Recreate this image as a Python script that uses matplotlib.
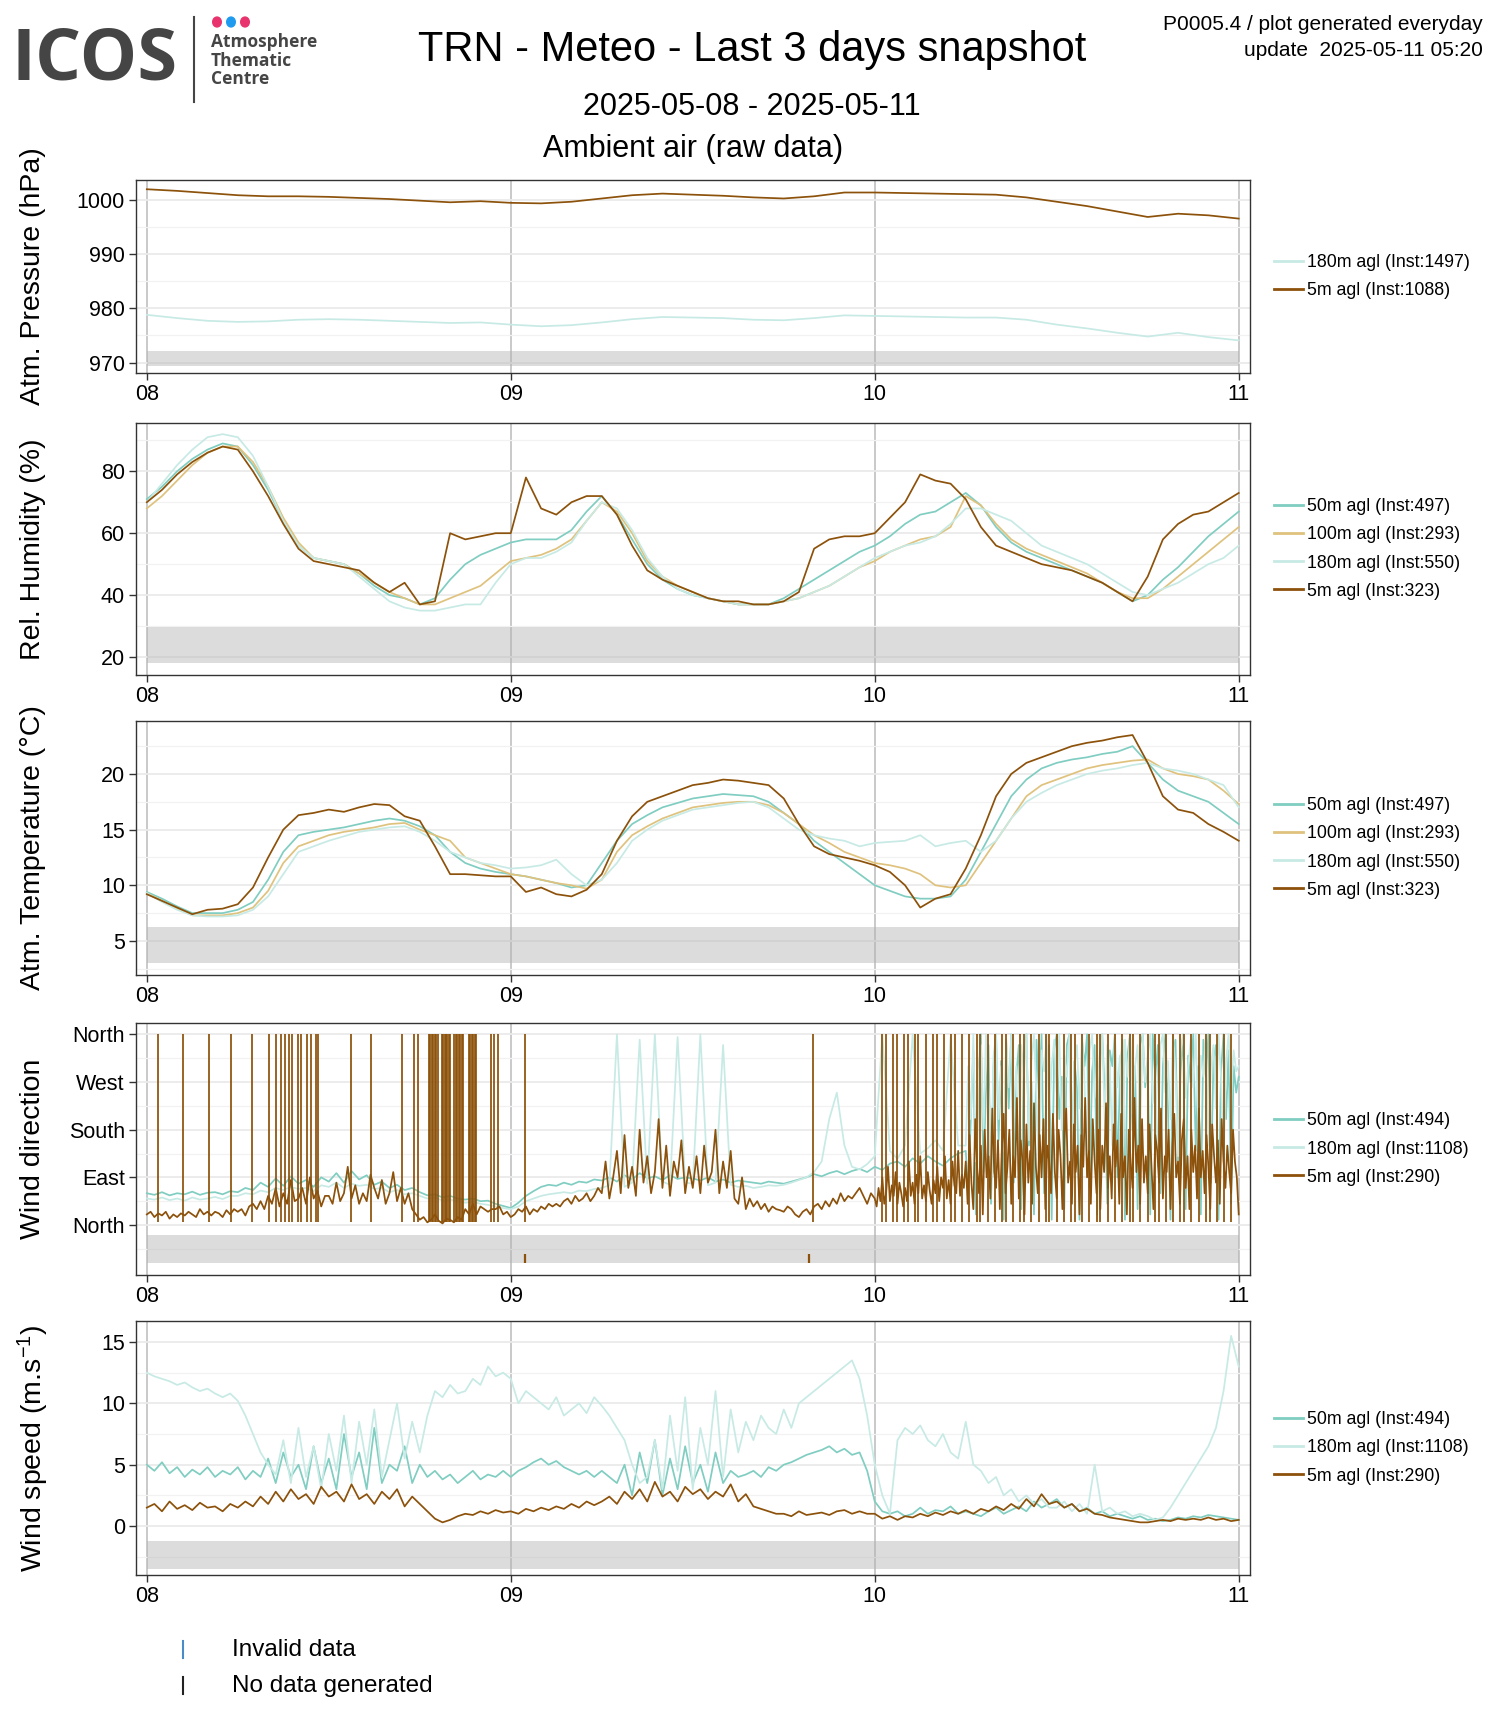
import numpy as np
import matplotlib
matplotlib.use("Agg")
import matplotlib.pyplot as plt
from matplotlib.lines import Line2D
from matplotlib.patches import Circle

plt.rcParams['font.family'] = ['Liberation Sans', 'DejaVu Sans']
plt.rcParams['mathtext.fontset'] = 'custom'
plt.rcParams['mathtext.rm'] = 'Liberation Sans'
plt.rcParams['mathtext.it'] = 'Liberation Sans:italic'

# ---------------- data ----------------
day_ticks = [0, 1, 2, 3]
day_labels = ["08", "09", "10", "11"]

press_5m = [1001.9, 1001.6, 1001.2, 1000.8, 1000.6, 1000.6, 1000.5, 1000.3, 1000.1, 999.8,
            999.5, 999.7, 999.4, 999.3, 999.6, 1000.2, 1000.8, 1001.1, 1000.9, 1000.7,
            1000.4, 1000.2, 1000.6, 1001.3, 1001.3, 1001.2, 1001.1, 1001.0, 1000.9, 1000.4,
            999.6, 998.8, 997.8, 996.8, 997.4, 997.1, 996.5]
press_180m = [978.8, 978.2, 977.7, 977.5, 977.6, 977.9, 978.0, 977.9, 977.7, 977.5,
              977.3, 977.4, 977.0, 976.7, 976.9, 977.4, 978.0, 978.4, 978.3, 978.2,
              977.9, 977.8, 978.2, 978.7, 978.6, 978.5, 978.4, 978.3, 978.3, 977.9,
              977.0, 976.3, 975.5, 974.8, 975.5, 974.7, 974.1]

rh_5m = [70, 74, 79, 83, 86, 88, 87, 80, 72, 63,
         55, 51, 50, 49, 48, 44, 41, 44, 37, 38,
         60, 58, 59, 60, 60, 78, 68, 66, 70, 72,
         72, 66, 56, 48, 45, 43, 41, 39, 38, 38,
         37, 37, 38, 41, 55, 58, 59, 59, 60, 65,
         70, 79, 77, 76, 71, 62, 56, 54, 52, 50,
         49, 48, 46, 44, 41, 38, 46, 58, 63, 66,
         67, 70, 73]
rh_50m = [71, 75, 80, 84, 87, 89, 88, 82, 74, 64,
          56, 52, 51, 50, 47, 43, 40, 39, 37, 39,
          45, 50, 53, 55, 57, 58, 58, 58, 61, 67,
          72, 66, 58, 50, 45, 42, 40, 39, 38, 37,
          37, 37, 39, 42, 45, 48, 51, 54, 56, 59,
          63, 66, 67, 70, 73, 69, 62, 57, 54, 52,
          50, 48, 46, 44, 41, 38, 40, 45, 49, 54,
          59, 63, 67]
rh_100m = [68, 72, 77, 82, 86, 88, 88, 83, 75, 65,
           57, 52, 51, 50, 47, 44, 41, 39, 37, 37,
           39, 41, 43, 47, 51, 52, 53, 55, 58, 64,
           70, 67, 60, 51, 46, 43, 41, 39, 38, 37,
           37, 37, 38, 39, 41, 43, 46, 49, 51, 54,
           56, 58, 59, 62, 72, 69, 63, 58, 55, 53,
           51, 49, 47, 44, 41, 39, 39, 42, 46, 50,
           54, 58, 62]
rh_180m = [70, 76, 82, 87, 91, 92, 91, 85, 75, 64,
           56, 52, 51, 50, 46, 42, 38, 36, 35, 35,
           36, 37, 37, 44, 50, 52, 52, 54, 57, 64,
           70, 68, 61, 52, 46, 42, 40, 39, 38, 37,
           37, 37, 38, 39, 41, 43, 46, 49, 52, 54,
           56, 57, 59, 63, 68, 68, 66, 64, 60, 56,
           54, 52, 50, 47, 44, 41, 40, 42, 44, 47,
           50, 52, 56]

temp_5m = [9.2, 8.6, 8.0, 7.4, 7.8, 7.9, 8.3, 9.8, 12.5, 15.0,
           16.3, 16.5, 16.8, 16.6, 17.0, 17.3, 17.2, 16.2, 15.8, 13.5,
           11.0, 11.0, 10.9, 10.8, 10.8, 9.4, 9.8, 9.2, 9.0, 9.6,
           11.0, 14.0, 16.2, 17.5, 18.0, 18.5, 19.0, 19.2, 19.5, 19.4,
           19.2, 19.0, 17.8, 15.5, 13.5, 12.8, 12.5, 12.2, 11.8, 11.2,
           10.0, 8.0, 8.8, 9.2, 11.5, 14.5, 18.0, 20.0, 21.0, 21.5,
           22.0, 22.5, 22.8, 23.0, 23.3, 23.5, 21.0, 18.0, 16.8, 16.5,
           15.5, 14.8, 14.0]
temp_50m = [9.4, 8.8, 8.1, 7.5, 7.5, 7.5, 7.8, 8.5, 10.5, 13.0,
            14.5, 14.8, 15.0, 15.2, 15.5, 15.8, 16.0, 15.8, 15.3, 14.5,
            13.0, 12.0, 11.5, 11.2, 11.0, 10.8, 10.5, 10.2, 9.8, 10.0,
            12.0, 14.0, 15.5, 16.3, 17.0, 17.4, 17.8, 18.0, 18.2, 18.1,
            18.0, 17.5, 16.5, 15.5, 14.0, 13.0, 12.0, 11.0, 10.0, 9.5,
            9.0, 8.8, 8.8, 9.0, 10.5, 13.0, 15.5, 18.0, 19.5, 20.5,
            21.0, 21.3, 21.5, 21.8, 22.0, 22.5, 21.0, 19.5, 18.5, 18.0,
            17.5, 16.5, 15.5]
temp_100m = [9.3, 8.6, 7.9, 7.3, 7.3, 7.3, 7.5, 8.0, 9.5, 12.0,
             13.5, 14.0, 14.5, 14.8, 15.0, 15.2, 15.5, 15.6, 15.0, 14.5,
             14.0, 12.5, 12.0, 11.5, 11.0, 10.8, 10.5, 10.2, 10.0, 9.7,
             10.5, 13.0, 14.5, 15.3, 16.0, 16.5, 17.0, 17.2, 17.4, 17.5,
             17.5, 17.2, 16.5, 15.5, 14.5, 13.8, 13.0, 12.5, 12.0, 11.8,
             11.5, 11.0, 10.0, 9.8, 10.0, 12.0, 14.0, 16.0, 18.0, 19.0,
             19.5, 20.0, 20.5, 20.8, 21.0, 21.2, 21.3, 20.5, 20.0, 19.8,
             19.5, 18.5, 17.3]
temp_180m = [9.3, 8.5, 7.8, 7.3, 7.2, 7.2, 7.3, 7.8, 9.0, 11.0,
             13.0, 13.5, 14.0, 14.4, 14.8, 15.0, 15.2, 15.3, 14.8, 14.0,
             13.0, 12.5, 12.0, 11.8, 11.5, 11.6, 11.8, 12.3, 11.0, 10.0,
             10.5, 12.0, 14.0, 15.0, 15.8, 16.3, 16.8, 17.0, 17.2, 17.4,
             17.5, 17.0, 16.0, 15.0, 14.5, 14.2, 14.0, 13.5, 13.8, 13.9,
             14.0, 14.5, 13.5, 13.8, 14.0, 13.0, 14.0, 16.0, 17.5, 18.3,
             19.0, 19.5, 20.0, 20.3, 20.5, 20.8, 21.0, 20.5, 20.3, 20.0,
             19.5, 19.0, 17.0]

# wind direction, 5m (values without the jumps to North)
# part a: every 15 min from 0 h to 48 h
wdir_5m_a = [20, 25, 15, 22, 18, 25, 12, 20, 15, 22, 18, 25,
             20, 15, 30, 20, 25, 18, 25, 22, 15, 28, 20, 30,
             25, 30, 18, 35, 40, 30, 45, 30, 55, 40, 70, 35,
             60, 40, 85, 45, 50, 70, 40, 90, 50, 65, 35, 55,
             55, 40, 80, 45, 60, 110, 50, 75, 40, 60, 45, 95,
             70, 50, 85, 40, 60, 100, 45, 70, 40, 60, 30, 20,
             10, 15, 5, 10, 20, 8, 3, 12, 10, 5, 15, 10,
             30, 20, 40, 20, 35, 30, 25, 30, 30, 35, 20, 25,
             15, 20, 30, 25, 35, 20, 30, 25, 35, 30, 40, 35,
             40, 35, 45, 50, 40, 55, 45, 50, 60, 45, 55, 70,
             60, 120, 50, 90, 140, 60, 170, 70, 110, 55, 180, 80,
             130, 60, 100, 200, 70, 150, 55, 120, 90, 160, 60, 110,
             70, 130, 60, 150, 80, 100, 180, 60, 120, 70, 140, 50,
             40, 90, 30, 50, 35, 45, 30, 40, 25, 35, 30, 28,
             25, 35, 30, 20, 15, 25, 30, 20, 35, 40, 30, 45,
             35, 50, 40, 60, 45, 55, 50, 60, 70, 55, 40, 60]
# part b: every 7.5 min from 48 h to 72 h
wdir_5m_b = [50, 35, 70, 45, 90, 40, 60, 110, 45, 75, 55, 100, 40, 80, 60, 35,
             70, 45, 120, 55, 80, 40, 95, 60, 130, 50, 75, 45, 100, 65, 40, 85,
             60, 110, 45, 90, 70, 130, 50, 85, 40, 120, 75, 60, 140, 55, 95, 70,
             120, 40, 170, 80, 30, 200, 110, 60, 150, 20, 180, 90, 130, 50, 220, 100,
             70, 160, 30, 140, 210, 60, 110, 180, 40, 130, 90, 240, 50, 160, 120, 20,
             190, 80, 140, 40, 230, 110, 60, 170, 90, 200, 30, 150, 120, 60, 210, 100,
             50, 180, 130, 30, 160, 220, 80, 120, 40, 190, 100, 150, 20, 170, 110, 240,
             90, 140, 40, 200, 120, 60, 180, 30, 150, 100, 230, 70, 130, 50, 190, 110,
             160, 40, 210, 90, 130, 20, 180, 120, 70, 240, 100, 150, 40, 200, 80, 130,
             60, 190, 110, 30, 170, 140, 80, 220, 50, 130, 100, 180, 30, 150, 210, 90,
             120, 40, 160, 200, 70, 130, 30, 180, 100, 150, 50, 220, 90, 140, 60, 170,
             110, 30, 190, 130, 80, 160, 40, 200, 120, 70, 150, 100, 60, 180, 120, 90,
             20]
# days at which the 5m direction jumps to North (360) and back
wdir_5m_north_days = [0.03, 0.10, 0.17, 0.23, 0.29, 0.335, 0.355, 0.37, 0.38, 0.39,
                      0.40, 0.415, 0.425, 0.44, 0.45, 0.465, 0.47, 0.56, 0.615, 0.70,
                      0.735, 0.745,
                      0.775, 0.779, 0.783, 0.787, 0.791, 0.795, 0.799,
                      0.810, 0.814, 0.818, 0.822, 0.826, 0.830, 0.834,
                      0.845, 0.849, 0.853, 0.857, 0.861, 0.865, 0.869,
                      0.885, 0.889, 0.893, 0.897, 0.901, 0.905,
                      0.945, 0.955, 0.965, 1.04, 1.83,
                      2.02, 2.03, 2.05, 2.06, 2.08, 2.09, 2.11, 2.12, 2.14, 2.16,
                      2.17, 2.19, 2.21, 2.22, 2.24, 2.26, 2.28, 2.29, 2.31, 2.33,
                      2.35, 2.36, 2.38, 2.40, 2.41, 2.43, 2.45, 2.47, 2.48, 2.50,
                      2.52, 2.54, 2.55, 2.57, 2.59, 2.61, 2.62, 2.64, 2.66, 2.68,
                      2.70, 2.71, 2.73, 2.75, 2.77, 2.78, 2.80, 2.82, 2.84, 2.85,
                      2.87, 2.89, 2.91, 2.92, 2.94, 2.96, 2.98]
wdir_north_low, wdir_north_high = 5, 360

# wind direction 50m / 180m: every 30 min until 54 h, then every 10 min
wdir_50m_a = [60, 57, 62, 56, 60, 58, 63, 57, 61, 62, 58, 64,
              62, 70, 66, 80, 72, 88, 74, 92, 78, 85, 72, 90,
              82, 98, 80, 102, 86, 94, 76, 82, 70, 76, 66, 70,
              62, 56, 58, 52, 55, 50, 48, 50, 45, 46, 40, 36,
              32, 42, 55, 64, 72, 76, 74, 80, 76, 82, 80, 86,
              84, 90, 82, 94, 86, 98, 88, 92, 85, 94, 87, 90,
              88, 84, 90, 82, 86, 80, 84, 82, 80, 78, 82, 80,
              78, 82, 86, 90, 96, 92, 98, 102, 96, 102, 106, 100,
              110, 104, 116, 120, 110, 126, 116, 130, 120, 112, 126, 135]
wdir_50m_b = [140, 60, 200, 330, 20, 280, 360, 100, 250, 340, 40, 300, 360, 160, 310, 10, 350, 220,
              360, 80, 280, 340, 30, 310, 360, 150, 270, 20, 350, 240, 360, 60, 300, 340, 10, 330,
              360, 200, 280, 30, 340, 360, 120, 310, 260, 10, 350, 300, 360, 70, 290, 340, 20, 320,
              360, 250, 40, 330, 300, 360, 90, 280, 350, 10, 320, 360, 180, 300, 30, 340, 360, 260,
              310, 20, 360, 280, 340, 60, 300, 360, 220, 10, 330, 350, 120, 290, 360, 30, 320, 270,
              360, 140, 300, 20, 350, 280, 360, 80, 310, 340, 10, 290, 360, 200, 330, 40, 300, 250,
              280]
wdir_180m_a = [50, 48, 52, 47, 50, 46, 52, 48, 50, 53, 49, 55,
               55, 60, 58, 65, 62, 70, 66, 72, 68, 70, 64, 75,
               72, 80, 70, 78, 74, 76, 68, 70, 62, 66, 58, 60,
               55, 50, 52, 46, 48, 45, 42, 44, 40, 38, 35, 32,
               30, 35, 45, 50, 55, 58, 60, 62, 60, 65, 64, 68,
               70, 75, 360, 72, 80, 350, 78, 360, 82, 76, 355, 80,
               78, 360, 75, 80, 340, 76, 72, 74, 70, 72, 75, 74,
               76, 80, 85, 90, 100, 120, 200, 250, 150, 110, 105, 115,
               130, 360, 140, 125, 150, 360, 135, 145, 160, 140, 355, 150]
wdir_180m_b = [150, 300, 200, 360, 120, 280, 340, 180, 360, 250, 90, 320, 360, 200, 300, 140, 350, 260,
               360, 220, 300, 100, 340, 280, 360, 160, 310, 360, 240, 80, 330, 290, 360, 200, 300, 350,
               250, 360, 180, 320, 280, 360, 120, 300, 340, 220, 360, 270, 100, 330, 360, 240, 310, 280,
               360, 200, 340, 300, 150, 360, 260, 320, 90, 350, 280, 360, 210, 300, 340, 180, 360, 270,
               320, 360, 230, 300, 110, 340, 360, 250, 310, 200, 360, 290, 130, 330, 360, 240, 300, 350,
               260, 360, 190, 320, 280, 360, 150, 300, 340, 220, 360, 280, 120, 310, 360, 250, 330, 290,
               300]
wdir_5m_nodata_days = [1.04, 1.82]

# wind speed: every 30 min
ws_180m = [12.5, 12.2, 12.0, 11.8, 11.5, 11.7, 11.3, 11.0, 11.2, 10.8, 10.5, 10.8,
           10.2, 9.0, 7.5, 6.0, 5.0, 4.2, 7.0, 3.5, 8.0, 4.0, 6.5, 3.0,
           7.5, 4.5, 9.0, 3.5, 8.5, 5.0, 9.5, 4.0, 7.0, 10.0, 5.5, 8.5,
           6.0, 9.0, 11.0, 10.5, 11.5, 10.8, 11.0, 12.0, 11.5, 13.0, 12.2, 12.5,
           12.0, 10.0, 11.0, 10.5, 10.0, 9.5, 10.5, 9.0, 9.5, 10.0, 9.2, 10.5,
           9.8, 9.0, 8.0, 7.0, 5.0, 3.5, 4.0, 7.0, 3.0, 9.0, 4.5, 10.5,
           3.0, 8.0, 5.0, 11.0, 4.0, 9.5, 6.0, 8.5, 7.0, 9.0, 8.0, 7.5,
           9.5, 8.0, 10.0, 10.5, 11.0, 11.5, 12.0, 12.5, 13.0, 13.5, 12.0, 9.0,
           5.0, 2.5, 1.0, 7.0, 8.0, 7.5, 8.2, 7.0, 6.5, 7.5, 6.0, 5.5,
           8.5, 5.0, 4.5, 3.5, 4.0, 2.5, 3.0, 2.0, 2.5, 1.8, 2.2, 1.5,
           1.5, 2.0, 1.2, 1.8, 1.0, 5.0, 1.2, 1.5, 1.0, 1.2, 0.8, 1.0,
           0.8, 0.5, 0.7, 1.5, 2.5, 3.5, 4.5, 5.5, 6.5, 8.0, 11.0, 15.5,
           13.0]
ws_50m = [5.0, 4.5, 5.2, 4.3, 4.8, 4.0, 4.6, 4.2, 4.8, 4.0, 4.5, 4.2,
          4.8, 3.8, 4.5, 4.0, 5.5, 3.5, 6.0, 4.0, 5.0, 3.0, 6.5, 3.5,
          5.5, 3.0, 7.5, 4.0, 6.0, 3.0, 8.0, 3.5, 5.0, 4.5, 6.5, 3.5,
          5.0, 4.0, 4.5, 3.8, 4.2, 3.5, 4.0, 4.5, 3.8, 4.2, 4.0, 4.5,
          4.0, 4.5, 4.8, 5.2, 5.5, 5.0, 5.3, 4.8, 4.5, 4.2, 4.5, 4.0,
          4.5, 4.0, 3.5, 5.0, 2.5, 6.0, 3.5, 7.0, 2.5, 5.5, 3.0, 6.5,
          3.5, 5.0, 2.8, 6.0, 3.5, 4.5, 4.0, 4.2, 4.5, 4.0, 4.8, 4.5,
          5.0, 5.2, 5.5, 5.8, 6.0, 6.2, 6.5, 6.0, 6.3, 5.8, 6.0, 4.5,
          2.0, 1.2, 1.0, 1.2, 0.8, 1.0, 1.5, 1.0, 1.3, 1.2, 1.6, 1.0,
          1.2, 1.0, 0.8, 1.2, 1.5, 1.0, 1.3, 1.6, 1.2, 2.0, 1.5, 1.8,
          2.2, 1.5, 1.8, 1.2, 1.5, 1.0, 1.2, 0.8, 1.0, 0.8, 0.6, 0.8,
          0.5, 0.6, 0.4, 0.5, 0.7, 0.6, 0.8, 0.7, 0.9, 0.8, 0.7, 0.6,
          0.5]
ws_5m = [1.5, 1.8, 1.2, 2.0, 1.4, 1.7, 1.3, 1.9, 1.5, 1.6, 1.2, 1.8,
         1.5, 2.0, 1.6, 2.4, 1.8, 2.8, 2.0, 3.0, 2.2, 2.6, 1.8, 3.2,
         2.4, 2.8, 2.0, 3.4, 2.2, 2.6, 1.8, 2.8, 2.2, 3.0, 1.6, 2.4,
         1.8, 1.2, 0.6, 0.3, 0.5, 0.8, 1.0, 0.9, 1.2, 1.0, 1.3, 1.1,
         1.2, 1.0, 1.4, 1.2, 1.5, 1.3, 1.6, 1.4, 1.8, 1.5, 2.0, 1.7,
         2.0, 2.4, 1.8, 2.8, 2.2, 3.0, 2.0, 3.6, 2.4, 2.8, 2.0, 3.2,
         2.6, 3.0, 2.2, 2.8, 2.4, 3.4, 2.0, 2.6, 1.6, 1.4, 1.2, 1.0,
         1.0, 0.8, 1.2, 0.9, 1.0, 1.1, 0.9, 1.2, 1.3, 1.0, 1.2, 1.0,
         1.0, 0.6, 0.8, 0.5, 0.8, 0.7, 1.0, 0.8, 1.1, 0.9, 1.2, 1.0,
         1.3, 1.0, 1.4, 1.2, 1.6, 1.3, 1.8, 1.4, 2.2, 1.6, 2.6, 1.8,
         2.0, 1.5, 1.8, 1.2, 1.4, 1.0, 0.9, 0.7, 0.6, 0.5, 0.4, 0.3,
         0.3, 0.4, 0.5, 0.4, 0.6, 0.5, 0.6, 0.5, 0.7, 0.5, 0.6, 0.4,
         0.5]

# ---------------- helpers ----------------
def tdays(vals, h0=0.0, h1=72.0):
    return np.linspace(h0, h1, len(vals)) / 24.0

def tdays_split(a, b, hsplit):
    ta = np.linspace(0, hsplit, len(a), endpoint=False)
    tb = np.linspace(hsplit, 72.0, len(b))
    return np.concatenate([ta, tb]) / 24.0

C50, C100, C180, C5 = '#80CDC1', '#DFC27D', '#C7EAE5', '#8C510A'
LW = 1.25

W, H = 1500, 1725
fig = plt.figure(figsize=(15, 17.25), dpi=100)

def rect(top, bottom):
    return [136 / W, 1 - bottom / H, (1250 - 136) / W, (bottom - top) / H]

panels = [
    dict(pos=(180, 373), ylim=(968.1, 1003.6), yt=[970, 980, 990, 1000], ytl=None,
         minor=[975, 985, 995], band=(969.4, 972.2), ylabel='Atm. Pressure (hPa)',
         series=[('180m agl (Inst:1497)', C180, tdays(press_180m), press_180m),
                 ('5m agl (Inst:1088)', C5, tdays(press_5m), press_5m)]),
    dict(pos=(423, 675), ylim=(14.2, 95.6), yt=[20, 40, 60, 80], ytl=None,
         minor=[30, 50, 70, 90], band=(18.1, 29.7), ylabel='Rel. Humidity (%)',
         series=[('50m agl (Inst:497)', C50, tdays(rh_50m), rh_50m),
                 ('100m agl (Inst:293)', C100, tdays(rh_100m), rh_100m),
                 ('180m agl (Inst:550)', C180, tdays(rh_180m), rh_180m),
                 ('5m agl (Inst:323)', C5, tdays(rh_5m), rh_5m)]),
    dict(pos=(721, 975), ylim=(1.94, 24.76), yt=[5, 10, 15, 20], ytl=None,
         minor=[2.5, 7.5, 12.5, 17.5, 22.5], band=(3.02, 6.26), ylabel='Atm. Temperature (°C)',
         series=[('50m agl (Inst:497)', C50, tdays(temp_50m), temp_50m),
                 ('100m agl (Inst:293)', C100, tdays(temp_100m), temp_100m),
                 ('180m agl (Inst:550)', C180, tdays(temp_180m), temp_180m),
                 ('5m agl (Inst:323)', C5, tdays(temp_5m), temp_5m)]),
    dict(pos=(1023, 1275), ylim=(-94.4, 381.5), yt=[0, 90, 180, 270, 360],
         ytl=['North', 'East', 'South', 'West', 'North'],
         minor=[-45, 45, 135, 225, 315], band=(-71.8, -18.9), ylabel='Wind direction',
         series=[('50m agl (Inst:494)', C50, tdays_split(wdir_50m_a, wdir_50m_b, 54.0), wdir_50m_a + wdir_50m_b),
                 ('180m agl (Inst:1108)', C180, tdays_split(wdir_180m_a, wdir_180m_b, 54.0), wdir_180m_a + wdir_180m_b),
                 ('5m agl (Inst:290)', C5, tdays_split(wdir_5m_a, wdir_5m_b, 48.0), wdir_5m_a + wdir_5m_b)]),
    dict(pos=(1321, 1575), ylim=(-3.99, 16.71), yt=[0, 5, 10, 15], ytl=None,
         minor=[-2.5, 2.5, 7.5, 12.5], band=(-3.5, -1.22), ylabel='Wind speed (m.s$^{-1}$)',
         series=[('50m agl (Inst:494)', C50, tdays(ws_50m), ws_50m),
                 ('180m agl (Inst:1108)', C180, tdays(ws_180m), ws_180m),
                 ('5m agl (Inst:290)', C5, tdays(ws_5m), ws_5m)]),
]

for i, p in enumerate(panels):
    ax = fig.add_axes(rect(*p['pos']))
    ax.set_axisbelow(True)
    ax.set_xticks(day_ticks)
    ax.set_xticklabels(day_labels)
    ax.set_yticks(p['yt'])
    if p['ytl'] is not None:
        ax.set_yticklabels(p['ytl'])
    ax.set_yticks(p['minor'], minor=True)
    ax.grid(True, which='minor', axis='y', color='#F2F2F2', lw=0.9)
    ax.grid(True, which='major', axis='y', color='#EBEBEB', lw=1.3)
    ax.grid(True, which='major', axis='x', color='#C9C9C9', lw=1.4)
    ax.tick_params(axis='both', which='major', direction='out', length=5, width=1.0,
                   color='#333333', labelsize=15.5, labelcolor='black', pad=3)
    ax.tick_params(axis='both', which='minor', length=0)
    for s in ax.spines.values():
        s.set_color('#333333')
        s.set_linewidth(1.0)
    tmin = min(np.min(s[2]) for s in p['series'])
    tmax = max(np.max(s[2]) for s in p['series'])
    ax.fill_between([tmin, tmax], p['band'][0], p['band'][1], color='#B3B3B3',
                    alpha=0.45, lw=0, zorder=1)
    handles = []
    for lab, col, t, v in p['series']:
        ax.plot(t, v, color=col, lw=LW, zorder=2, solid_joinstyle='round')
        handles.append(Line2D([0], [0], color=col, lw=2.0))
    if i == 3:
        ax.vlines(wdir_5m_north_days, wdir_north_low, wdir_north_high, color=C5,
                  lw=LW, zorder=2.1)
        b0, b1 = p['band']
        ax.vlines(wdir_5m_nodata_days, b0, b0 + 0.32 * (b1 - b0),
                  color=C5, lw=1.6, zorder=3)
    ax.set_xlim(-0.0297, 3.031)
    ax.set_ylim(*p['ylim'])
    ax.legend(handles, [s[0] for s in p['series']], loc='center left',
              bbox_to_anchor=(1.015, 0.5), frameon=False, fontsize=12.8,
              handlelength=1.65, handletextpad=0.2, labelspacing=0.62,
              borderaxespad=0.0)
    cy = 1 - (p['pos'][0] + p['pos'][1]) / 2 / H
    fig.text(33 / W, cy, p['ylabel'], rotation=90, ha='center', va='center', fontsize=20.5)

# ---------------- header ----------------
fig.text(752 / W, 1 - 50 / H, 'TRN - Meteo - Last 3 days snapshot', ha='center', va='center', fontsize=30)
fig.text(752 / W, 1 - 107 / H, '2025-05-08 - 2025-05-11', ha='center', va='center', fontsize=22)
fig.text(693 / W, 1 - 149 / H, 'Ambient air (raw data)', ha='center', va='center', fontsize=22)
fig.text(1483 / W, 1 - 25 / H, 'P0005.4 / plot generated everyday', ha='right', va='center', fontsize=15)
fig.text(1483 / W, 1 - 50 / H, 'update  2025-05-11 05:20', ha='right', va='center', fontsize=15)

# logo
logo_grey = '#454545'
fig.text(11 / W, 1 - 60 / H, 'ICOS', ha='left', va='center', fontsize=52,
         family=['Open Sans', 'DejaVu Sans'], weight='bold', color=logo_grey)
fig.add_artist(Line2D([194 / W, 194 / W], [1 - 17 / H, 1 - 102 / H], color=logo_grey, lw=1.5))
for cx, col in [(217, '#E8336E'), (231, '#1E9BEF'), (245, '#E8336E')]:
    fig.add_artist(Circle((cx / W, 1 - 22 / H), 4.3 / W, color=col, transform=fig.transFigure))
for yy, txt in [(42, 'Atmosphere'), (61, 'Thematic'), (79, 'Centre')]:
    fig.text(211 / W, 1 - yy / H, txt, ha='left', va='center', fontsize=12.5,
             family=['Open Sans', 'DejaVu Sans'], weight='bold', color=logo_grey)

# ---------------- bottom legend ----------------
fig.add_artist(Line2D([183 / W, 183 / W], [1 - 1641 / H, 1 - 1658 / H], color='#4A8CC8', lw=1.5))
fig.add_artist(Line2D([183 / W, 183 / W], [1 - 1677 / H, 1 - 1694 / H], color='#222222', lw=1.5))
fig.text(232 / W, 1 - 1650 / H, 'Invalid data', ha='left', va='center', fontsize=17.5)
fig.text(232 / W, 1 - 1686 / H, 'No data generated', ha='left', va='center', fontsize=17.5)

fig.savefig('out.png', dpi=100)
